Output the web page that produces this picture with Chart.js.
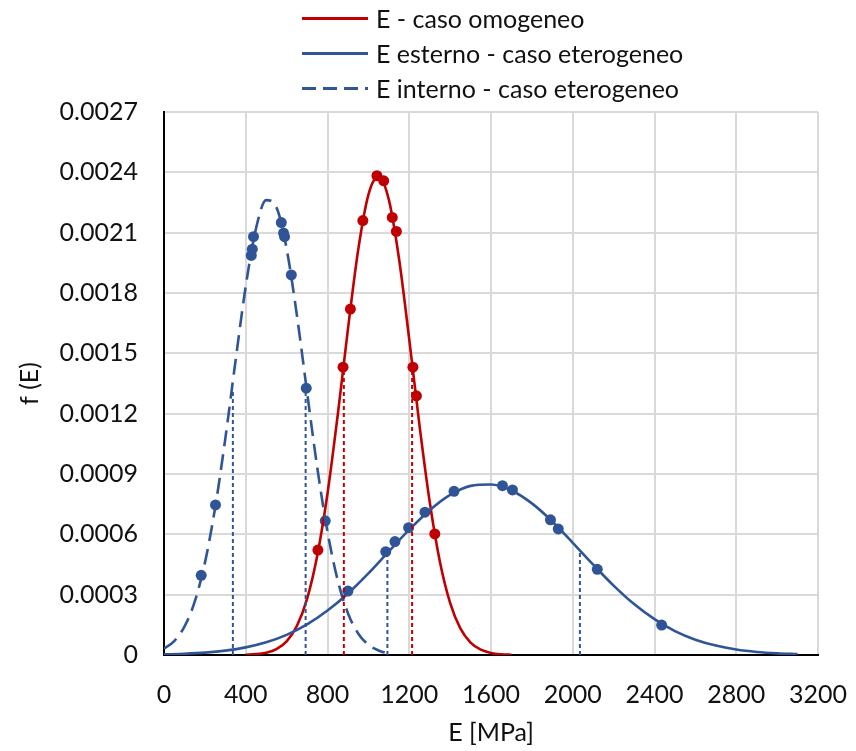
<!DOCTYPE html>
<html>
<head>
<meta charset="utf-8">
<script src="https://cdn.jsdelivr.net/npm/chart.js@4.4.1/dist/chart.umd.min.js"></script>
<style>
  body { margin: 0; background: #fff; }
  #wrap { position: relative; width: 856px; height: 751px; font-family: Lato, "Liberation Sans", sans-serif; }
  #legend { position: absolute; left: 0; top: 0; }
  .row { position: absolute; left: 302px; height: 30px; display: flex; align-items: center; font-size: 25px; color: #111; white-space: nowrap; }
  .sample { width: 66px; margin-right: 8px; border-top-width: 3px; border-top-style: solid; }
</style>
</head>
<body>
<div id="wrap">
  <canvas id="resultChart" width="856" height="751"></canvas>
  <div id="legend"></div>
</div>
<script>
// curve points: [E, f(E)]
const omogeneoCurve = [
  [400, 0.0000014], [450, 0.0000042], [500, 0.0000116], [550, 0.0000293], [600, 0.0000679],
  [650, 0.000144], [700, 0.000279], [750, 0.000495], [800, 0.000803], [850, 0.001193],
  [900, 0.00162], [950, 0.002013], [1000, 0.002288], [1050, 0.00238], [1100, 0.002264],
  [1150, 0.00197], [1200, 0.001569], [1250, 0.001143], [1300, 0.000762], [1350, 0.000464],
  [1400, 0.000259], [1450, 0.000132], [1500, 0.0000617], [1550, 0.0000264], [1600, 0.0000103],
  [1650, 0.0000037], [1700, 0.0000012]
];
const esternoCurve = [
  [0, 0.0000031], [100, 0.0000063], [200, 0.0000119], [300, 0.0000217], [400, 0.0000379],
  [500, 0.000063], [600, 0.0001], [700, 0.000152], [800, 0.000221], [900, 0.000306],
  [1000, 0.000406], [1100, 0.000515], [1200, 0.000623], [1300, 0.00072], [1400, 0.000796],
  [1500, 0.000841], [1600, 0.000848], [1700, 0.000818], [1800, 0.000754], [1900, 0.000664],
  [2000, 0.000558], [2100, 0.000449], [2200, 0.000345], [2300, 0.000253], [2400, 0.000178],
  [2500, 0.000119], [2600, 0.0000762], [2700, 0.0000467], [2800, 0.0000273], [2900, 0.0000152],
  [3000, 0.0000081], [3100, 0.0000042]
];
const internoCurve = [
  [0, 0.0000314], [50, 0.0000692], [100, 0.000141], [150, 0.000264], [200, 0.000458],
  [250, 0.000731], [300, 0.001076], [350, 0.001463], [400, 0.001834], [450, 0.00212],
  [500, 0.002262], [550, 0.002226], [600, 0.00202], [650, 0.001691], [700, 0.001307],
  [750, 0.000931], [800, 0.000612], [850, 0.000371], [900, 0.000208], [950, 0.000107],
  [1000, 0.000051], [1050, 0.0000224], [1080, 0.000012]
];

// sample points (dots)
const omogeneoDots = [
  [753, 0.000522], [876, 0.001431], [912, 0.00172], [973, 0.00216], [1042, 0.002383],
  [1075, 0.002358], [1117, 0.002176], [1137, 0.002106], [1218, 0.001431], [1235, 0.001289],
  [1325, 0.000602]
];
const esternoDots = [
  [900, 0.000318], [1085, 0.000514], [1130, 0.000564], [1197, 0.000633], [1277, 0.00071],
  [1419, 0.000814], [1656, 0.000842], [1705, 0.000821], [1891, 0.000672], [1929, 0.000627],
  [2120, 0.000426], [2435, 0.000149]
];
const internoDots = [
  [182, 0.000396], [252, 0.000746], [427, 0.001987], [432, 0.002018], [438, 0.00208],
  [574, 0.00215], [585, 0.002098], [590, 0.00208], [623, 0.00189], [696, 0.001327],
  [789, 0.000667]
];

// vertical reference lines: [E, height]
const omogeneoMarks = [[880, 0.00143], [1214, 0.00143]];
const esternoMarks = [[1093, 0.000512], [2035, 0.000518]];
const internoMarks = [[337, 0.00131], [693, 0.00131]];

const xTicks = [0, 400, 800, 1200, 1600, 2000, 2400, 2800, 3200];
const xTickLabels = ['0', '400', '800', '1200', '1600', '2000', '2400', '2800', '3200'];
const yTickLabels = ['0', '0.0003', '0.0006', '0.0009', '0.0012', '0.0015', '0.0018', '0.0021', '0.0024', '0.0027'];

const seriesNames = ['E - caso omogeneo', 'E esterno - caso eterogeneo', 'E interno - caso eterogeneo'];

const RED = '#C00000';
const BLUE = '#2F5597';
const FONT = 'Lato, "Liberation Sans", sans-serif';

const pts = arr => arr.map(p => ({ x: p[0], y: p[1] }));

function curve(data, color, dash) {
  return {
    data: pts(data), showLine: true, borderColor: color, borderWidth: 2.6,
    borderDash: dash || [], pointRadius: 0, tension: 0.4, cubicInterpolationMode: 'monotone'
  };
}
function dots(data, color) {
  return {
    data: pts(data), showLine: false, pointRadius: 5.5, pointBackgroundColor: color,
    pointBorderColor: color, pointBorderWidth: 0
  };
}
function marks(list, color) {
  return list.map(m => ({
    data: [{ x: m[0], y: 0 }, { x: m[0], y: m[1] }], showLine: true, borderColor: color,
    borderWidth: 2, borderDash: [4, 3], pointRadius: 0
  }));
}

const datasets = [
  ...marks(internoMarks, BLUE),
  ...marks(esternoMarks, BLUE),
  ...marks(omogeneoMarks, RED),
  curve(internoCurve, BLUE, [16, 8]),
  curve(esternoCurve, BLUE),
  curve(omogeneoCurve, RED),
  dots(internoDots, BLUE),
  dots(esternoDots, BLUE),
  dots(omogeneoDots, RED)
];

// legend, one entry per row like the original
const legend = document.getElementById('legend');
[[RED, 'solid'], [BLUE, 'solid'], [BLUE, 'dashed']].forEach((s, i) => {
  const row = document.createElement('div');
  row.className = 'row';
  row.style.top = (3 + i * 35) + 'px';
  const line = document.createElement('span');
  line.className = 'sample';
  line.style.borderTopColor = s[0];
  if (s[1] === 'dashed') {
    line.style.borderTop = 'none';
    line.style.height = '3px';
    line.style.background = `repeating-linear-gradient(to right, ${s[0]} 0 14px, transparent 14px 21px)`;
  }
  row.appendChild(line);
  row.appendChild(document.createTextNode(seriesNames[i]));
  legend.appendChild(row);
});

const ctx = document.getElementById('resultChart').getContext('2d');
new Chart(ctx, {
  type: 'scatter',
  data: { datasets: datasets },
  options: {
    responsive: false,
    animation: false,
    layout: { padding: { top: 112, right: 38, bottom: 0, left: 0 } },
    plugins: { legend: { display: false }, tooltip: { enabled: false } },
    scales: {
      x: {
        type: 'linear', min: 0, max: 3200,
        afterBuildTicks: s => { s.ticks = xTicks.map(v => ({ value: v })); },
        afterFit: s => { s.height = 96; s.paddingLeft = 0; s.paddingRight = 0; },
        grid: { color: '#d9d9d9', lineWidth: 2, drawTicks: false },
        border: { color: '#000', width: 2 },
        ticks: {
          color: '#111', font: { family: FONT, size: 25 }, padding: 25, maxRotation: 0,
          callback: (v, i) => xTickLabels[i]
        },
        title: { display: true, text: 'E [MPa]', color: '#111', font: { family: FONT, size: 25 }, padding: { top: 0, bottom: 3 } }
      },
      y: {
        type: 'linear', min: 0, max: 0.0027,
        afterBuildTicks: s => { s.ticks = yTickLabels.map((t, i) => ({ value: i * 0.0003 })); },
        afterFit: s => { s.width = 164; s.paddingTop = 0; s.paddingBottom = 0; },
        grid: { color: '#d9d9d9', lineWidth: 2, drawTicks: false },
        border: { color: '#000', width: 2 },
        ticks: {
          color: '#111', font: { family: FONT, size: 25 }, padding: 26,
          callback: (v, i) => yTickLabels[i]
        },
        title: { display: true, text: 'f (E)', color: '#111', font: { family: FONT, size: 25 }, padding: { top: 15, bottom: 0 } }
      }
    }
  }
});
</script>
</body>
</html>
